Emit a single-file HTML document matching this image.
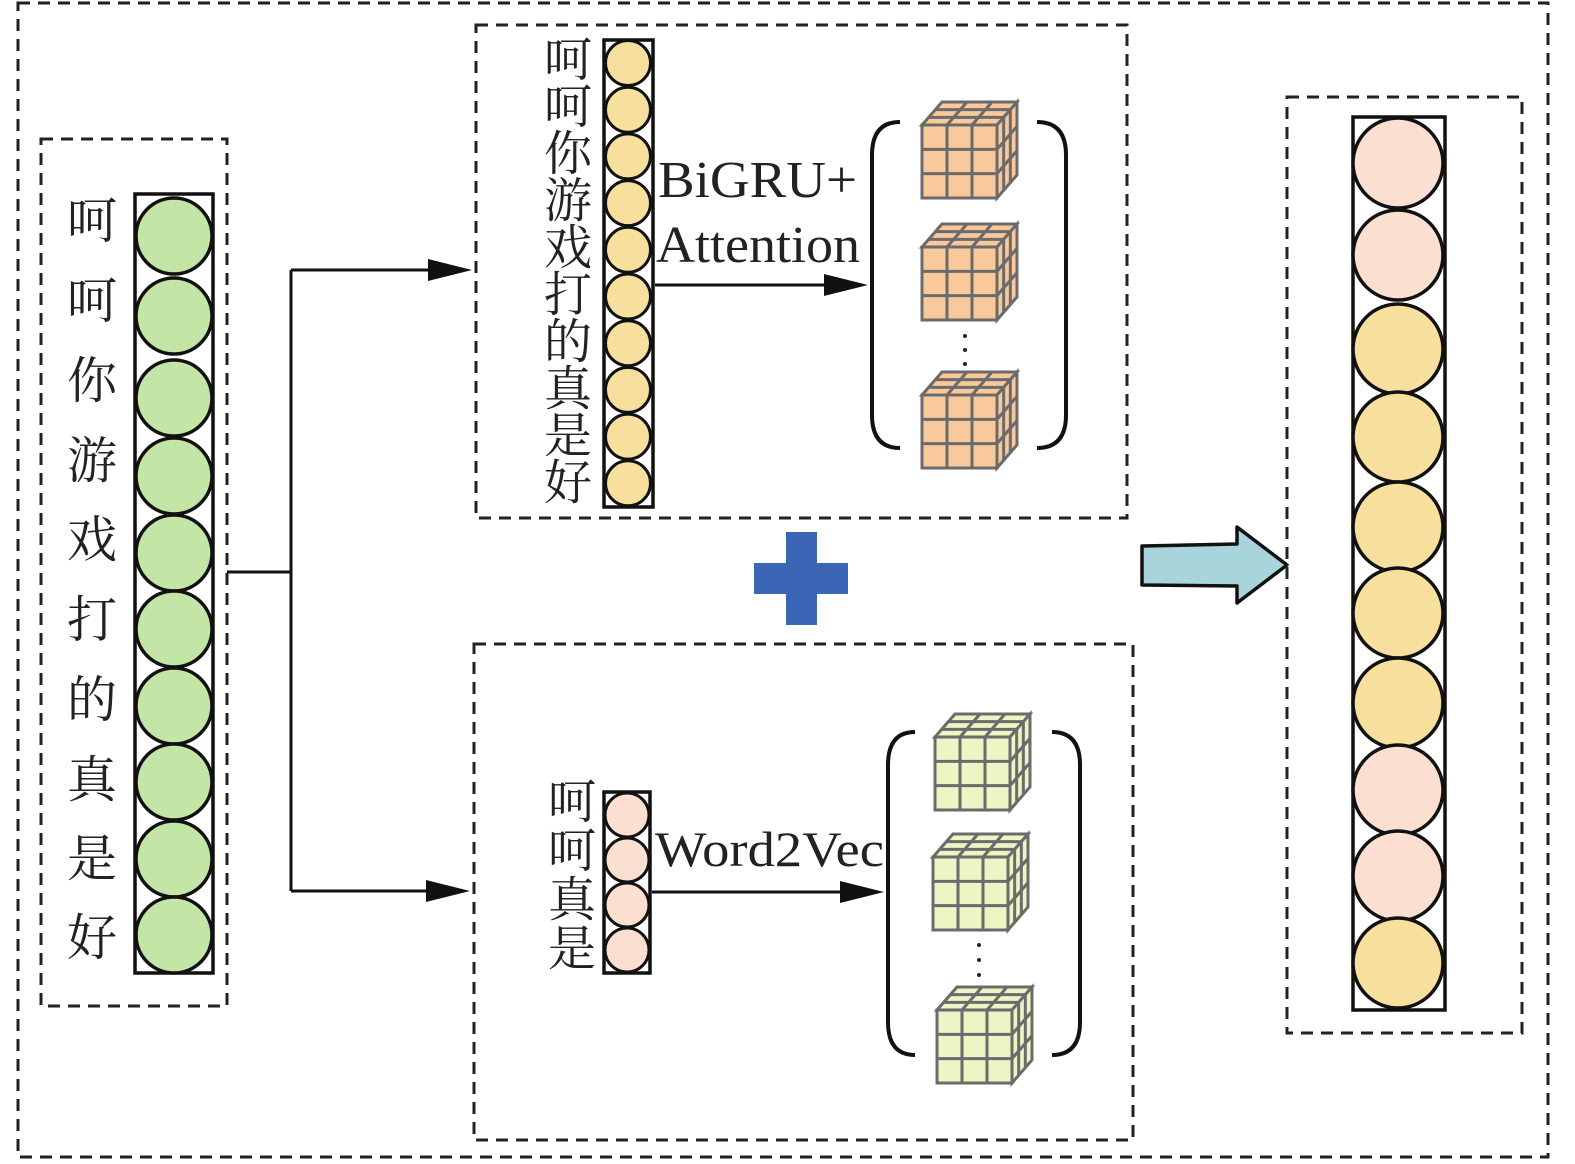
<!DOCTYPE html>
<html><head><meta charset="utf-8">
<style>
html,body{margin:0;padding:0;background:#fff;}
svg{display:block;}
text{font-family:"Liberation Serif","Noto Serif CJK SC",serif;fill:#222;}
</style></head>
<body>
<svg id="s" width="1575" height="1164" viewBox="0 0 1575 1164" xmlns="http://www.w3.org/2000/svg">
<g fill="none" stroke="#222" stroke-width="3" stroke-dasharray="12,8">
<rect x="18" y="3" width="1530" height="1154"/>
<rect x="41" y="139" width="186" height="867"/>
<rect x="476" y="25" width="651" height="493"/>
<rect x="474" y="644" width="659" height="496"/>
<rect x="1287" y="97" width="235" height="936"/>
</g>
<g stroke="#111" stroke-width="3" fill="none">
<polyline points="227,572 291,572"/>
<polyline points="291,270 291,891"/>
</g>
<path d="M291,270 L430,270 M291,891 L428,891 M655,285 L826,285 M652,892 L842,892" stroke="#111" stroke-width="3"/>
<path d="M428,259 L472,270 L428,281 z M426,880 L470,891 L426,902 z M824,274 L868,285 L824,296 z M840,881 L884,892 L840,903 z" fill="#111"/>
<g id="dyn"></g>
<text x="658" y="197" font-size="52" textLength="199" lengthAdjust="spacingAndGlyphs">BiGRU+</text>
<text x="656" y="262" font-size="52" textLength="204" lengthAdjust="spacingAndGlyphs">Attention</text>
<text x="655" y="866" font-size="50" textLength="229" lengthAdjust="spacingAndGlyphs">Word2Vec</text>
<rect x="754" y="563" width="94" height="31" fill="#3b66b5"/>
<rect x="786" y="532" width="31" height="93" fill="#3b66b5"/>
<polygon points="1142,546 1237,544 1237,527 1287,565 1237,603 1237,586 1142,585" fill="#a8d5dc" stroke="#111" stroke-width="3.5" stroke-linejoin="round"/>
<g fill="none" stroke="#111" stroke-width="4">
<path d="M900,122 Q872,122 872,155 L872,415 Q872,448 900,448"/>
<path d="M1037,122 Q1066,122 1066,155 L1066,415 Q1066,448 1037,448"/>
<path d="M915,732 Q888,732 888,765 L888,1022 Q888,1055 915,1055"/>
<path d="M1052,732 Q1080,732 1080,765 L1080,1022 Q1080,1055 1052,1055"/>
</g>
<g fill="#222">
<circle cx="965" cy="336" r="2"/><circle cx="965" cy="350" r="2"/><circle cx="965" cy="364" r="2"/>
<circle cx="979" cy="945" r="2"/><circle cx="979" cy="960" r="2"/><circle cx="979" cy="975" r="2"/>
</g>
</svg>
<script>
var g=document.getElementById('dyn'),h='';
function circ(cx,cy,r,f,sw){h+='<circle cx="'+cx+'" cy="'+cy+'" r="'+r+'" fill="'+f+'" stroke="#111" stroke-width="'+sw+'"/>';}
function rect(x,y,w,hh){h+='<rect x="'+x+'" y="'+y+'" width="'+w+'" height="'+hh+'" fill="#fff" stroke="#111" stroke-width="3.5"/>';}
function txt(x,y,s,t){h+='<text x="'+x+'" y="'+y+'" font-size="'+s+'" text-anchor="middle">'+t+'</text>';}
rect(135,194,78,779);
var gy=[236,316,398,476,553,629,706,782,859,935];
gy.forEach(function(y){circ(174,y,38,'#c3e5a6',3.5);});
var lc='呵呵你游戏打的真是好'.split('');
var ly=[238,318,398,478,557,637,717,797,876,955];
lc.forEach(function(c,i){txt(92,ly[i],50,c);});
rect(604,40,49,467);
for(var i=0;i<10;i++)circ(628,63+i*46.7,22.5,'#f7e09e',3);
lc.forEach(function(c,i){txt(568,76+i*47,48,c);});
rect(604,792,46,181);
[815,860,905,950].forEach(function(y){circ(627,y,22,'#fbe0d2',3);});
'呵呵真是'.split('').forEach(function(c,i){txt(572,818+i*49,48,c);});
rect(1353,117,92,893);
var ry=[163,255,349,437,527,613,703,790,876,963];
var rc=['#fbe0d2','#fbe0d2','#f7e09e','#f7e09e','#f7e09e','#f7e09e','#f7e09e','#fbe0d2','#fbe0d2','#f7e09e'];
ry.forEach(function(y,i){circ(1398,y,45,rc[i],3.5);});
function cube(x,y,f){
 var w=75,d=20,u=23,s='#6b6b6b';
 var o='<g stroke="'+s+'" stroke-width="3" fill="'+f+'">';
 o+='<polygon points="'+x+','+y+' '+(x+d)+','+(y-u)+' '+(x+w+d)+','+(y-u)+' '+(x+w)+','+y+'"/>';
 o+='<polygon points="'+(x+w)+','+y+' '+(x+w+d)+','+(y-u)+' '+(x+w+d)+','+(y+w-u-2)+' '+(x+w)+','+(y+w-2)+'"/>';
 o+='<rect x="'+x+'" y="'+y+'" width="'+w+'" height="'+(w-2)+'"/>';
 for(var k=1;k<3;k++){
  var a=k/3;
  o+='<line x1="'+(x+w*a)+'" y1="'+y+'" x2="'+(x+w*a)+'" y2="'+(y+w-2)+'"/>';
  o+='<line x1="'+x+'" y1="'+(y+(w-2)*a)+'" x2="'+(x+w)+'" y2="'+(y+(w-2)*a)+'"/>';
  o+='<line x1="'+(x+w*a)+'" y1="'+y+'" x2="'+(x+w*a+d)+'" y2="'+(y-u)+'"/>';
  o+='<line x1="'+(x+d*a)+'" y1="'+(y-u*a)+'" x2="'+(x+w+d*a)+'" y2="'+(y-u*a)+'"/>';
  o+='<line x1="'+(x+w+d*a)+'" y1="'+(y-u*a)+'" x2="'+(x+w+d*a)+'" y2="'+(y+w-2-u*a)+'"/>';
  o+='<line x1="'+(x+w)+'" y1="'+(y+(w-2)*a)+'" x2="'+(x+w+d)+'" y2="'+(y+(w-2)*a-u)+'"/>';
 }
 o+='</g>';h+=o;
}
cube(922,125,'#f9c89b');cube(922,247,'#f9c89b');cube(922,395,'#f9c89b');
cube(935,737,'#eef5c5');cube(933,857,'#eef5c5');cube(937,1010,'#eef5c5');
g.innerHTML=h;
</script>
</body></html>
